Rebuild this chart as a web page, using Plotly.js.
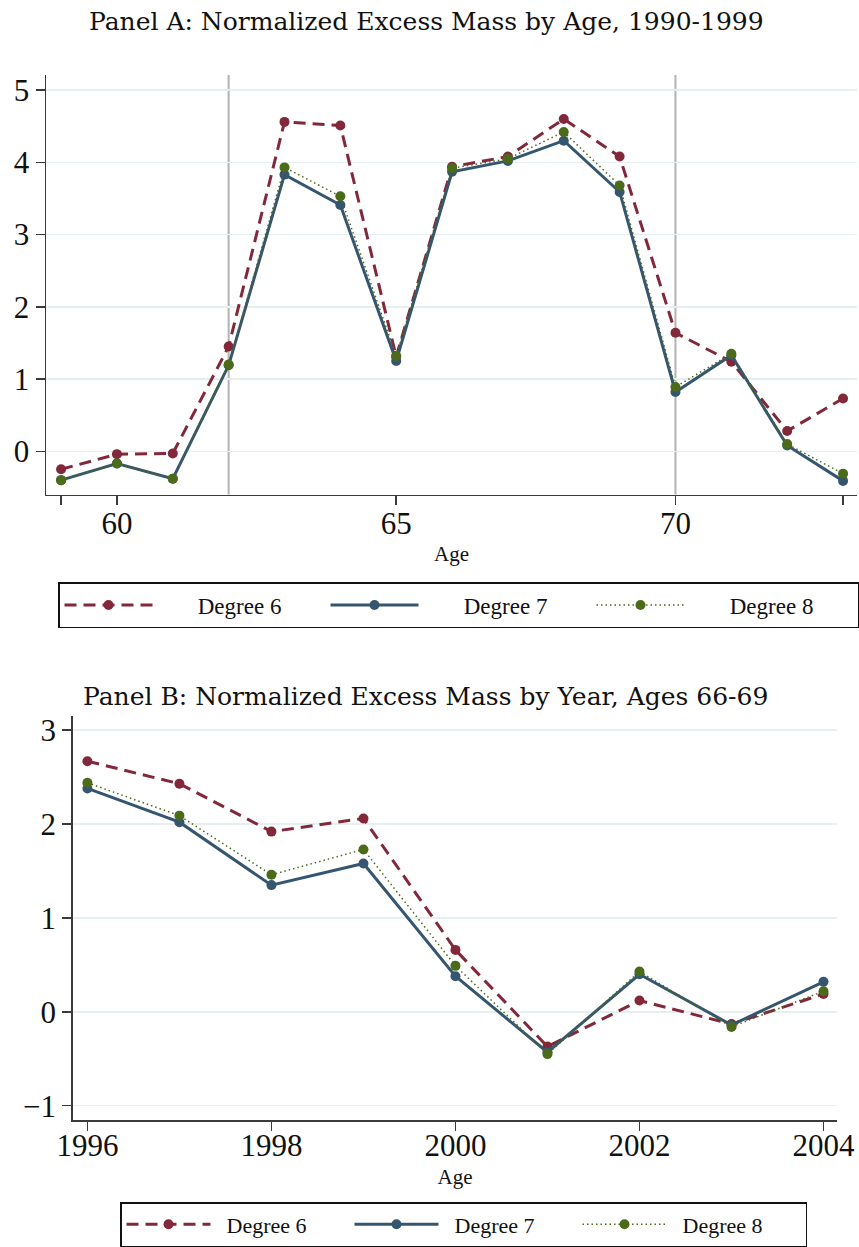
<!DOCTYPE html>
<html><head><meta charset="utf-8">
<script src="https://cdn.plot.ly/plotly-3.0.1.min.js"></script>
<style>body{margin:0;background:#fff;}</style>
</head><body>
<div id="chart" style="width:859px;height:1247px;"></div>
<script>
// Panel A: by age, 1990-1999
const ages = [59,60,61,62,63,64,65,66,67,68,69,70,71,72,73];
const ageDeg6 = [-0.25,-0.04,-0.03,1.45,4.56,4.51,1.31,3.94,4.08,4.60,4.08,1.64,1.24,0.28,0.73];
const ageDeg7 = [-0.40,-0.17,-0.38,1.19,3.83,3.41,1.25,3.87,4.02,4.30,3.59,0.82,1.33,0.08,-0.41];
const ageDeg8 = [-0.40,-0.17,-0.38,1.20,3.93,3.53,1.32,3.92,4.05,4.42,3.68,0.89,1.35,0.10,-0.31];
const ageRefLines = [62, 70];
const ageTickVals = [59,60,65,70,73];
const ageTickText = ['','60','65','70',''];

// Panel B: by year, ages 66-69
const years = [1996,1997,1998,1999,2000,2001,2002,2003,2004];
const yearDeg6 = [2.67,2.43,1.92,2.06,0.66,-0.37,0.12,-0.13,0.19];
const yearDeg7 = [2.38,2.02,1.35,1.58,0.38,-0.43,0.40,-0.14,0.32];
const yearDeg8 = [2.44,2.09,1.46,1.73,0.49,-0.45,0.43,-0.16,0.22];

const seriesNames = ['Degree 6','Degree 7','Degree 8'];
const titleA = 'Panel A: Normalized Excess Mass by Age, 1990-1999';
const titleB = 'Panel B: Normalized Excess Mass by Year, Ages 66-69';

const W = 859, H = 1247;
const RED = '#82283A', BLUE = '#36566F', GREEN = '#4B6B1A';
const styles = [
  {color: RED, dash: '12px,7px', width: 3},
  {color: BLUE, dash: 'solid', width: 3},
  {color: GREEN, dash: '1.5px,3px', width: 1.5}
];
const serif = 'Liberation Serif, Times New Roman, serif';
const padA = '\u00a0\u00a0\u00a0\u00a0\u00a0\u00a0\u00a0';
const padB = '\u00a0\u00a0';

function mk(x, y, i, xa, ya, lg, pad) {
  return {
    x: x, y: y, type: 'scatter', mode: 'lines+markers', name: pad + seriesNames[i],
    xaxis: xa, yaxis: ya, legend: lg,
    line: {color: styles[i].color, dash: styles[i].dash, width: styles[i].width},
    marker: {color: styles[i].color, size: 10, symbol: 'circle'},
    cliponaxis: false
  };
}

const traces = [
  mk(ages, ageDeg6, 0, 'x', 'y', 'legend', padA),
  mk(ages, ageDeg7, 1, 'x', 'y', 'legend', padA),
  mk(ages, ageDeg8, 2, 'x', 'y', 'legend', padA),
  mk(years, yearDeg6, 0, 'x2', 'y2', 'legend2', padB),
  mk(years, yearDeg7, 1, 'x2', 'y2', 'legend2', padB),
  mk(years, yearDeg8, 2, 'x2', 'y2', 'legend2', padB)
];

const px = v => v / W;
const py = v => 1 - v / H;

const axCommon = {
  showline: true, linecolor: '#3a3a3a', linewidth: 1.5,
  ticks: 'outside', ticklen: 9, tickwidth: 1.5, tickcolor: '#3a3a3a',
  tickfont: {family: serif, size: 31, color: '#111'},
  zeroline: false, mirror: false
};

const layout = {
  width: W, height: H,
  margin: {l: 0, r: 0, t: 0, b: 0},
  paper_bgcolor: '#fff', plot_bgcolor: '#fff',
  font: {family: serif, color: '#111'},
  showlegend: true,
  xaxis: Object.assign({}, axCommon, {
    domain: [px(46), px(857)], anchor: 'y', range: [58.73, 73.25],
    tickmode: 'array', tickvals: ageTickVals, ticktext: ageTickText,
    showgrid: false, ticklabelstandoff: -8,
    title: {text: 'Age', font: {family: serif, size: 21, color: '#111'}, standoff: 6}
  }),
  yaxis: Object.assign({}, axCommon, {
    domain: [py(495), py(75)], anchor: 'x', range: [-0.6, 5.21],
    tickmode: 'array', tickvals: [0,1,2,3,4,5],
    showgrid: true, gridcolor: '#e6eff2', gridwidth: 1.5
  }),
  xaxis2: Object.assign({}, axCommon, {
    domain: [px(72.7), px(837.3)], anchor: 'y2', range: [1995.84, 2004.15],
    tickmode: 'array', tickvals: [1996,1998,2000,2002,2004],
    showgrid: false, ticklabelstandoff: -12,
    title: {text: 'Age', font: {family: serif, size: 21, color: '#111'}, standoff: 7}
  }),
  yaxis2: Object.assign({}, axCommon, {
    domain: [py(1121), py(716.7)], anchor: 'x2', range: [-1.153, 3.15],
    tickmode: 'array', tickvals: [-1,0,1,2,3],
    showgrid: true, gridcolor: '#e6eff2', gridwidth: 1.5
  }),
  shapes: ageRefLines.map(v => ({
    type: 'line', xref: 'x', yref: 'y domain', x0: v, x1: v, y0: 0, y1: 1,
    line: {color: '#b3b3b3', width: 2}, layer: 'below'
  })),
  annotations: [
    {text: titleA, xref: 'paper', yref: 'paper', x: px(426), y: py(22), xanchor: 'center', yanchor: 'middle',
     showarrow: false, font: {family: 'DejaVu Serif, serif', size: 25, color: '#111'}},
    {text: titleB, xref: 'paper', yref: 'paper', x: px(425), y: py(697), xanchor: 'center', yanchor: 'middle',
     showarrow: false, font: {family: 'DejaVu Serif, serif', size: 25, color: '#111'}}
  ],
  legend: {
    orientation: 'h', x: px(60), y: py(582), xanchor: 'left', yanchor: 'top',
    bordercolor: '#111', borderwidth: 1.5, bgcolor: '#fff',
    font: {family: serif, size: 23, color: '#111'},
    itemwidth: 88, entrywidth: 163, entrywidthmode: 'pixels',
    itemclick: false, itemdoubleclick: false
  },
  legend2: {
    orientation: 'h', x: px(120), y: py(1203), xanchor: 'left', yanchor: 'top',
    bordercolor: '#111', borderwidth: 1.5, bgcolor: '#fff',
    font: {family: serif, size: 22, color: '#111'},
    itemwidth: 84, entrywidth: 129, entrywidthmode: 'pixels',
    itemclick: false, itemdoubleclick: false
  }
};

Plotly.newPlot('chart', traces, layout, {staticPlot: true, displayModeBar: false});
</script>
</body></html>
